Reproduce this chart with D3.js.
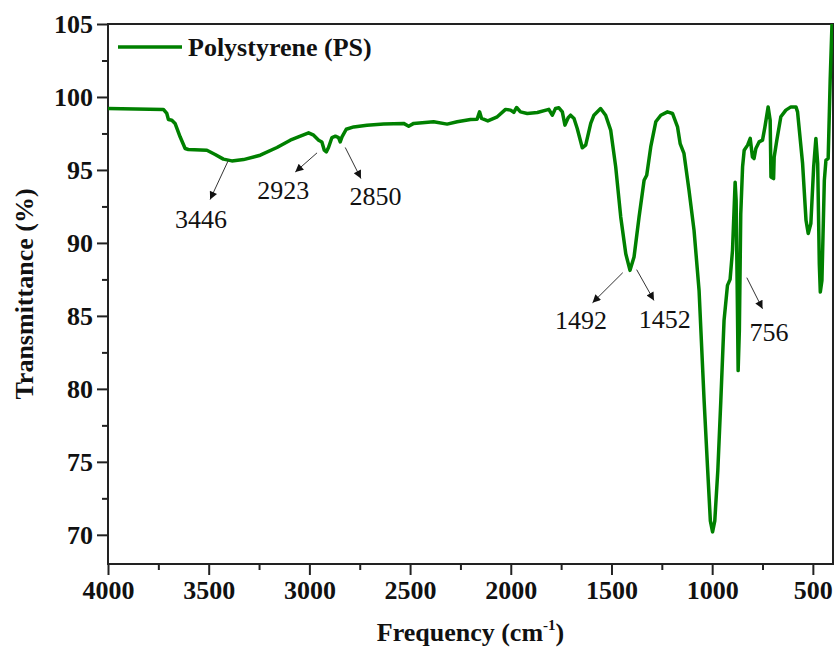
<!DOCTYPE html>
<html>
<head>
<meta charset="utf-8">
<script src="https://cdn.jsdelivr.net/npm/d3@7"></script>
<style>
  html, body { margin: 0; padding: 0; background: #fff; }
  svg { display: block; }
</style>
</head>
<body>
<svg id="chart" width="835" height="647"></svg>
<script>
// ---- Data ----
const seriesName = "Polystyrene (PS)";
const frequency = [4000,3725,3708,3700,3683,3667,3642,3617,3601,3509,3468,3427,3385,3327,3244,3161,3095,3045,3004,2979,2954,2938,2926,2916,2905,2888,2871,2855,2847,2838,2817,2780,2714,2631,2532,2507,2482,2383,2316,2266,2200,2167,2155,2145,2114,2067,2026,2001,1985,1971,1952,1918,1868,1811,1794,1778,1761,1744,1731,1715,1703,1686,1670,1645,1628,1603,1587,1554,1529,1504,1479,1454,1429,1408,1388,1363,1338,1325,1305,1280,1255,1222,1197,1172,1159,1140,1115,1090,1065,1040,1023,1009,998,987,972,957,941,924,911,899,886,881,875,871,865,858,849,841,824,811,800,792,783,767,750,738,722,712,708,695,692,679,659,634,609,584,576,551,534,523,510,496,485,476,468,463,455,443,435,424,414,405];
const transmittance = [99.21,99.15,98.87,98.46,98.41,98.19,97.27,96.47,96.40,96.35,96.06,95.74,95.62,95.71,96.01,96.54,97.04,97.31,97.54,97.38,97.04,96.92,96.35,96.24,96.54,97.22,97.31,97.22,96.92,97.27,97.79,97.95,98.07,98.14,98.19,98.00,98.19,98.30,98.14,98.30,98.46,98.48,98.98,98.53,98.36,98.64,99.15,99.10,98.94,99.28,98.98,98.87,98.94,99.15,98.75,99.21,99.26,98.98,98.07,98.58,98.75,98.53,97.84,96.52,96.70,98.19,98.75,99.21,98.75,97.73,95.21,91.78,89.26,88.12,89.03,91.78,94.29,94.64,96.58,98.30,98.75,98.98,98.87,97.95,96.81,96.13,93.61,90.86,86.74,79.19,74.62,70.96,70.2,70.96,74.39,79.19,84.69,87.09,87.5,89.49,94.16,92.92,86.06,81.25,84.0,92.01,95.21,96.35,96.70,97.16,95.89,95.78,96.47,96.92,97.04,97.95,99.32,98.41,94.52,94.41,95.89,97.04,98.64,99.10,99.32,99.32,98.98,95.44,91.55,90.64,91.32,95.21,97.16,95.44,88.58,86.63,87.43,94.29,95.67,95.78,101.16,105];

const xTicks = [4000,3500,3000,2500,2000,1500,1000,500];
const xMinorTicks = [3750,3250,2750,2250,1750,1250,750];
const yTicks = [70,75,80,85,90,95,100,105];
const yMinorTicks = [72.5,77.5,82.5,87.5,92.5,97.5,102.5];

const annotLabels = ["3446","2923","2850","1492","1452","756"];
const annotTextFreq = [3538,3130,2672,1651,1236,718];
const annotTextT = [91.0,92.99,92.58,84.07,84.14,83.31];
const arrowFromFreq = [3402,2962,2822,1444,1375,828];
const arrowFromT = [95.67,96.17,96.54,87.96,88.17,87.62];
const arrowToFreq = [3493,3070,2744,1594,1289,750];
const arrowToT = [92.97,94.86,94.41,85.90,86.06,85.49];

// ---- Layout ----
const W = 835, H = 647;
const margin = {left: 108, right: 2, top: 24, bottom: 83};
const iw = W - margin.left - margin.right;
const ih = H - margin.top - margin.bottom;
const serif = "'Liberation Serif','Times New Roman',serif";
const green = "#008000";

const svg = d3.select("#chart");
const x = d3.scaleLinear().domain([4000, 400]).range([0, iw]);
const y = d3.scaleLinear().domain([68, 105]).range([ih, 0]);

const g = svg.append("g").attr("transform", `translate(${margin.left},${margin.top})`);

g.append("defs").append("clipPath").attr("id", "clip")
  .append("rect").attr("x", 0).attr("y", 0).attr("width", iw).attr("height", ih);
svg.select("defs").append("marker")
  .attr("id", "arrowhead").attr("viewBox", "0 0 10 10")
  .attr("refX", 10).attr("refY", 5)
  .attr("markerWidth", 10).attr("markerHeight", 8)
  .attr("markerUnits", "userSpaceOnUse")
  .attr("orient", "auto")
  .append("path").attr("d", "M0,0 L10,5 L0,10 Z").attr("fill", "#111");

// Axes
const xAxis = g.append("g").attr("transform", `translate(0,${ih})`)
  .call(d3.axisBottom(x).tickValues(xTicks).tickSize(11).tickPadding(6).tickFormat(d3.format("d")));
g.append("g").attr("transform", `translate(0,${ih})`)
  .call(d3.axisBottom(x).tickValues(xMinorTicks).tickSize(6).tickFormat(""));
const yAxis = g.append("g")
  .call(d3.axisLeft(y).tickValues(yTicks).tickSize(11).tickPadding(4).tickFormat(d3.format("d")));
g.append("g")
  .call(d3.axisLeft(y).tickValues(yMinorTicks).tickSize(6).tickFormat(""));

g.selectAll(".domain").remove();
g.selectAll(".tick line").attr("stroke", "#222").attr("stroke-width", 2);
g.selectAll(".tick text")
  .attr("font-family", serif).attr("font-weight", "bold")
  .attr("font-size", 26).attr("fill", "#111");

// Frame
g.append("rect").attr("x", 0).attr("y", 0).attr("width", iw).attr("height", ih)
  .attr("fill", "none").attr("stroke", "#222").attr("stroke-width", 2);

// Series
const pts = frequency.map((f, i) => [f, transmittance[i]]);
g.append("path").datum(pts)
  .attr("clip-path", "url(#clip)")
  .attr("fill", "none").attr("stroke", green).attr("stroke-width", 3.5)
  .attr("stroke-linejoin", "round").attr("stroke-linecap", "round")
  .attr("d", d3.line().x(d => x(d[0])).y(d => y(d[1])));

// Annotations
annotLabels.forEach((lab, i) => {
  g.append("line")
    .attr("x1", x(arrowFromFreq[i])).attr("y1", y(arrowFromT[i]))
    .attr("x2", x(arrowToFreq[i])).attr("y2", y(arrowToT[i]))
    .attr("stroke", "#333").attr("stroke-width", 1)
    .attr("marker-end", "url(#arrowhead)");
  g.append("text")
    .attr("x", x(annotTextFreq[i])).attr("y", y(annotTextT[i]))
    .attr("text-anchor", "middle")
    .attr("font-family", serif).attr("font-size", 26).attr("fill", "#111")
    .text(lab);
});

// Legend
const lg = g.append("g").attr("transform", "translate(10,23)");
lg.append("line").attr("x1", 0).attr("x2", 64).attr("y1", 0).attr("y2", 0)
  .attr("stroke", green).attr("stroke-width", 3.5);
lg.append("text").attr("x", 70).attr("y", 9)
  .attr("font-family", serif).attr("font-weight", "bold").attr("font-size", 26)
  .attr("fill", "#111").text(seriesName);

// Axis titles
svg.append("text")
  .attr("x", margin.left + iw / 2).attr("y", 641)
  .attr("text-anchor", "middle")
  .attr("font-family", serif).attr("font-weight", "bold").attr("font-size", 26).attr("fill", "#111")
  .call(t => {
    t.append("tspan").text("Frequency (cm");
    t.append("tspan").attr("font-size", 15).attr("dy", -11).text("-1");
    t.append("tspan").attr("dy", 11).text(")");
  });
svg.append("text")
  .attr("transform", `translate(33,${margin.top + ih / 2}) rotate(-90)`)
  .attr("text-anchor", "middle")
  .attr("font-family", serif).attr("font-weight", "bold").attr("font-size", 26).attr("fill", "#111")
  .text("Transmittance (%)");
</script>
</body>
</html>
